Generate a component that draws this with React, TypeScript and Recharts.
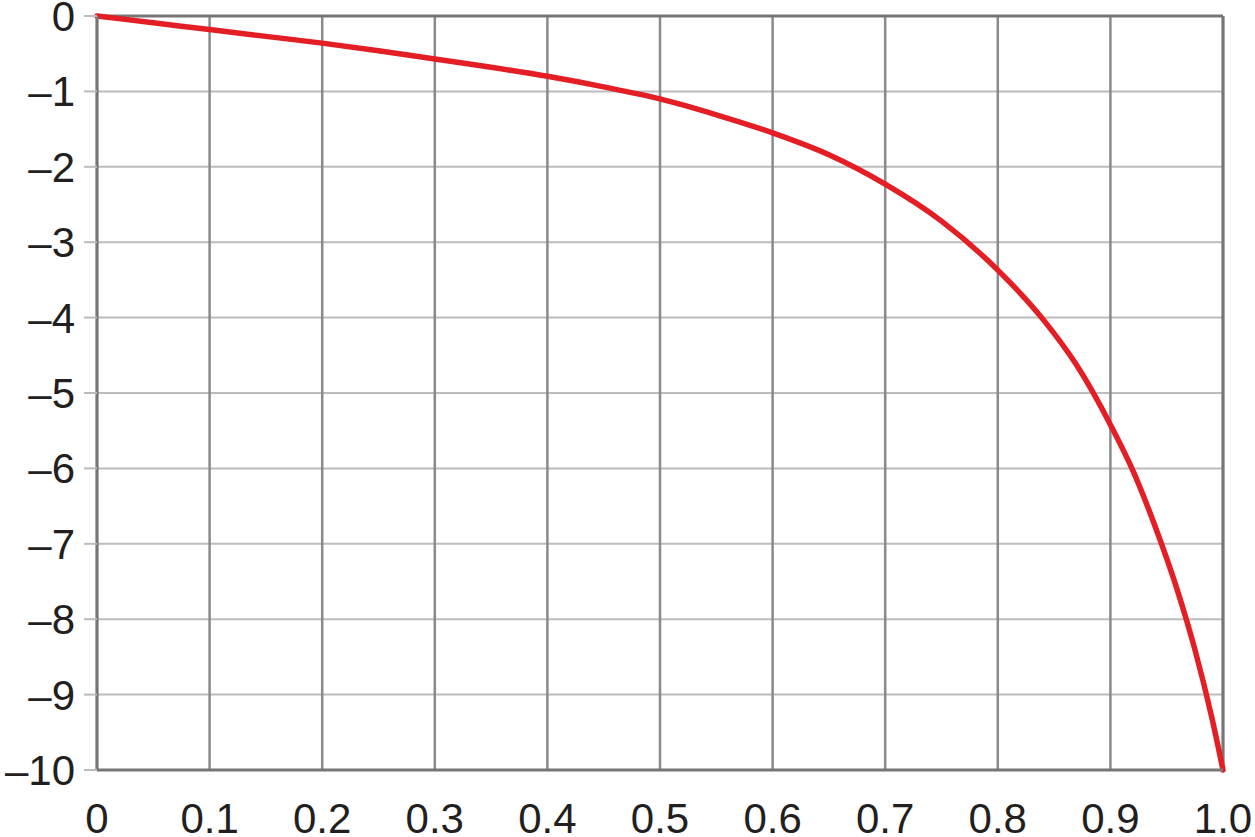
import React from 'react';
import {
  LineChart, Line, XAxis, YAxis, CartesianGrid, ReferenceLine,
} from 'recharts';

// values
const xValues = [
  0, 0.05, 0.1, 0.15, 0.2, 0.25, 0.3, 0.35, 0.4, 0.45, 0.5, 0.55, 0.6, 0.65,
  0.7, 0.75, 0.8, 0.84, 0.87, 0.9, 0.92, 0.94, 0.96, 0.975, 0.99, 1.0,
];
const yValues = [
  0, -0.09, -0.18, -0.27, -0.36, -0.46, -0.57, -0.68, -0.8, -0.94, -1.1, -1.31, -1.55, -1.84,
  -2.23, -2.72, -3.37, -4.02, -4.63, -5.42, -6.03, -6.78, -7.64, -8.4, -9.3, -10,
];
const xTicks = [0, 0.1, 0.2, 0.3, 0.4, 0.5, 0.6, 0.7, 0.8, 0.9, 1.0];
const yTicks = [0, -1, -2, -3, -4, -5, -6, -7, -8, -9, -10];

const data = xValues.map((x, i) => ({ x, y: yValues[i] }));

const FRAME = '#767676';
const TICK_STYLE = { fill: '#231f20', fontSize: 42, fontFamily: '"Liberation Sans", Arial, sans-serif' };

const fmtX = (v: number) => (v === 0 ? '0' : v.toFixed(1));
const fmtY = (v: number) => (v === 0 ? '0' : '\u2013' + Math.abs(v));

export default function App() {
  return (
    <div style={{ position: 'absolute', left: 0, top: 0, width: 1255, height: 837, background: '#fff' }}>
      <LineChart width={1255} height={837} data={data} margin={{ top: 16, right: 32, left: 0, bottom: 0 }}>
        <CartesianGrid vertical={false} stroke="#bcbcbc" strokeWidth={2} />
        <CartesianGrid horizontal={false} stroke="#8a8a8a" strokeWidth={2.5} />
        <XAxis
          dataKey="x" type="number" domain={[0, 1]} ticks={xTicks} tickFormatter={fmtX}
          height={67} tickLine={false} tickSize={0} tickMargin={33}
          axisLine={{ stroke: FRAME, strokeWidth: 3 }} tick={TICK_STYLE} interval={0}
        />
        <YAxis
          type="number" domain={[-10, 0]} ticks={yTicks} tickFormatter={fmtY}
          width={97} tickSize={13} tickMargin={9}
          tickLine={{ stroke: '#bcbcbc', strokeWidth: 2 }}
          axisLine={{ stroke: FRAME, strokeWidth: 3 }} tick={TICK_STYLE} interval={0}
        />
        <ReferenceLine y={0} stroke={FRAME} strokeWidth={3} />
        <ReferenceLine x={1} stroke={FRAME} strokeWidth={3} />
        <Line
          type="monotone" dataKey="y" stroke="#e31e24" strokeWidth={5.5}
          strokeLinecap="round" dot={false} isAnimationActive={false}
        />
      </LineChart>
    </div>
  );
}
